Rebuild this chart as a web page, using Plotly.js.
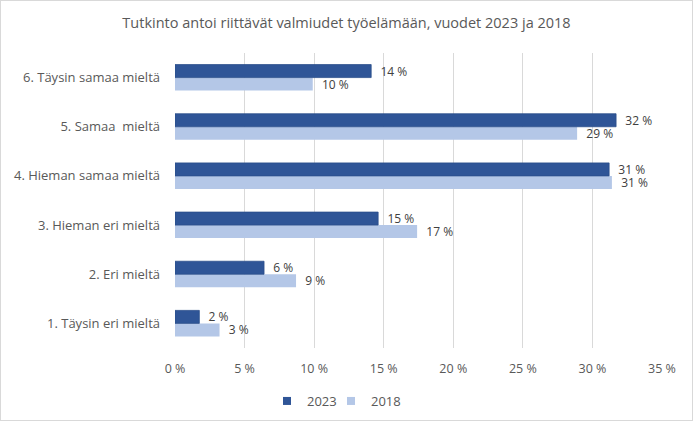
<!DOCTYPE html>
<html>
<head>
<meta charset="utf-8">
<script src="https://cdn.plot.ly/plotly-3.0.1.min.js"></script>
<style>
  html, body { margin: 0; padding: 0; background: #fff; }
  #chart { position: absolute; left: 0; top: 0; width: 691px; height: 419px; border: 1px solid #d9d9d9; }
</style>
</head>
<body>
<div id="chart"></div>
<script>
// Categories listed bottom-to-top
const categories = [
  "1. Täysin eri mieltä",
  "2. Eri mieltä",
  "3. Hieman eri mieltä",
  "4. Hieman samaa mieltä",
  "5. Samaa  mieltä",
  "6. Täysin samaa mieltä"
];
const values2023 = [1.75, 6.4, 14.6, 31.2, 31.7, 14.1];
const values2018 = [3.2, 8.7, 17.4, 31.4, 28.9, 9.9];
const seriesNames = ["2023", "2018"];
const xTicks = [0, 5, 10, 15, 20, 25, 30, 35];
const xTickText = ["0 %", "5 %", "10 %", "15 %", "20 %", "25 %", "30 %", "35 %"];

const fontFam = "'Open Sans', 'Liberation Sans', sans-serif";
const labelColor = "#404040";
const tickColor = "#595959";
const c2023 = "#2f5597";
const c2018 = "#b4c7e7";
const lblTemplate = "\u00A0\u00A0%{x:.0f} %";

const trace2018 = {
  type: "bar", orientation: "h",
  name: seriesNames[1], y: categories, x: values2018,
  marker: { color: c2018 },
  texttemplate: lblTemplate, textposition: "outside", constraintext: "none",
  textfont: { family: fontFam, size: 12, color: labelColor },
  cliponaxis: false, showlegend: false, hoverinfo: "skip"
};
const trace2023 = {
  type: "bar", orientation: "h",
  name: seriesNames[0], y: categories, x: values2023,
  marker: { color: c2023, line: { color: "#2a4d8a", width: 0.75 } },
  texttemplate: lblTemplate, textposition: "outside", constraintext: "none",
  textfont: { family: fontFam, size: 12, color: labelColor },
  cliponaxis: false, showlegend: false, hoverinfo: "skip"
};
// legend-only entries with small square swatches, each in its own legend box
const leg2023 = { type: "scatter", mode: "markers", x: [null], y: [null], name: seriesNames[0],
  marker: { symbol: "square", size: 8, color: c2023 }, legend: "legend" };
const leg2018 = { type: "scatter", mode: "markers", x: [null], y: [null], name: seriesNames[1],
  marker: { symbol: "square", size: 8, color: c2018 }, legend: "legend2" };

const legendBase = {
  orientation: "h", xref: "container", yref: "container",
  xanchor: "left", y: 1 - 400 / 419, yanchor: "middle",
  font: { family: fontFam, size: 13, color: tickColor },
  bgcolor: "rgba(0,0,0,0)"
};

const layout = {
  width: 691, height: 419,
  margin: { l: 174, r: 30, t: 52, b: 72 },
  paper_bgcolor: "#ffffff", plot_bgcolor: "#ffffff",
  font: { family: fontFam, color: tickColor, size: 13 },
  title: {
    text: "Tutkinto antoi riittävät valmiudet työelämään, vuodet 2023 ja 2018",
    font: { family: fontFam, size: 14.5, color: tickColor },
    x: 0.5, xref: "container", xanchor: "center",
    y: 1 - 22 / 419, yref: "container", yanchor: "middle"
  },
  barmode: "group", bargap: 0.47, bargroupgap: 0,
  xaxis: {
    range: [0, 35], tickvals: xTicks, ticktext: xTickText,
    showgrid: true, gridcolor: "#d9d9d9", gridwidth: 1,
    zeroline: false, showline: false, ticks: "",
    ticklabelstandoff: 11, fixedrange: true,
    tickfont: { family: fontFam, size: 12.5, color: tickColor }
  },
  yaxis: {
    type: "category", categoryorder: "array", categoryarray: categories,
    showgrid: false, zeroline: false, showline: false, ticks: "",
    ticklabelstandoff: 14, fixedrange: true,
    tickfont: { family: fontFam, size: 13, color: tickColor }
  },
  showlegend: true,
  legend: Object.assign({}, legendBase, { x: 266 / 691 }),
  legend2: Object.assign({}, legendBase, { x: 330 / 691 })
};

Plotly.newPlot("chart", [trace2018, trace2023, leg2023, leg2018], layout, { staticPlot: true, displayModeBar: false });
</script>
</body>
</html>
